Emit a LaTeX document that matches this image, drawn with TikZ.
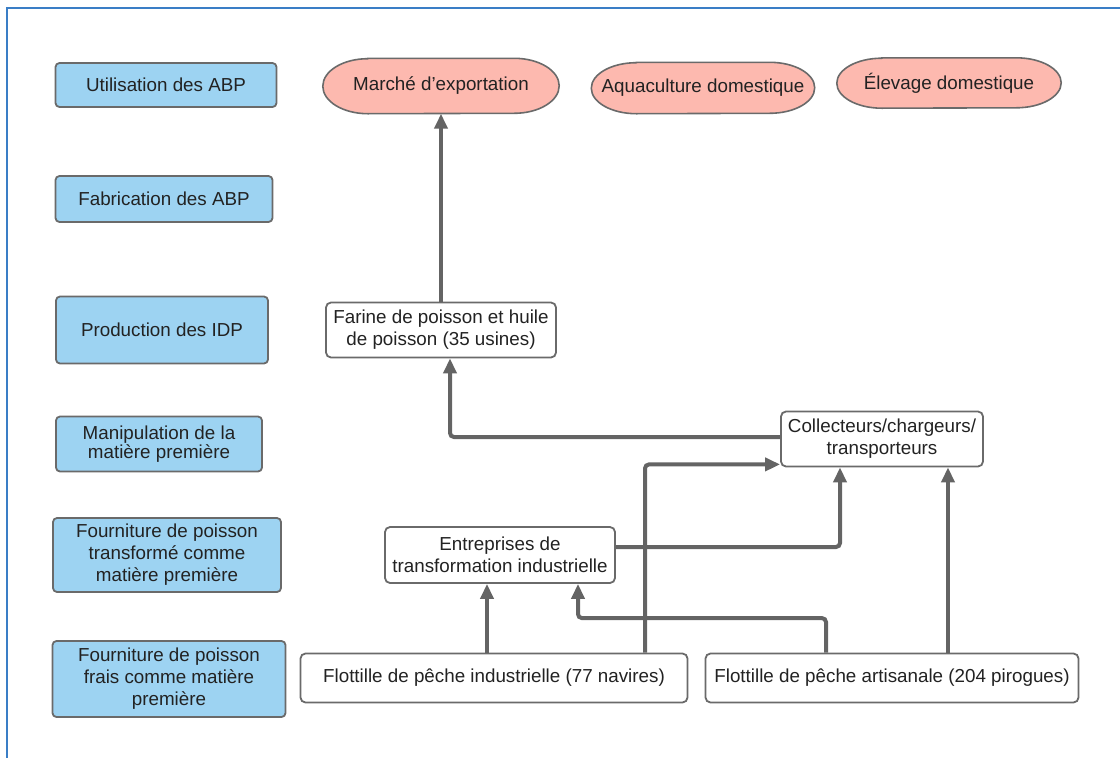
\documentclass[tikz,border=0pt]{standalone}
\usepackage{fontspec}
\setmainfont{Liberation Sans}
\usetikzlibrary{arrows.meta,backgrounds}
\definecolor{stageblue}{HTML}{9DD3F2}
\definecolor{usepink}{HTML}{FDB9AF}
\definecolor{edgegray}{HTML}{6A6A6A}
\definecolor{flowgray}{HTML}{646464}
\definecolor{framblue}{HTML}{3A7EC6}
\definecolor{txt}{HTML}{222222}
\begin{document}
\begin{tikzpicture}[x=1pt,y=-1pt,
  every node/.style={font=\fontsize{18.8}{22}\selectfont, text=txt, align=center, inner sep=0pt},
  stagebox/.style={draw=edgegray, line width=1.8pt, fill=stageblue, rounded corners=4pt},
  usebox/.style={},
  useoutline/.style={draw=edgegray, line width=1.6pt, fill=usepink},
  actbox/.style={draw=edgegray, line width=1.8pt, fill=white, rounded corners=5pt},
  conn/.style={draw=flowgray, line width=4pt, rounded corners=4pt,
    -{Triangle[length=15pt,width=13pt]}}
]
\useasboundingbox (0,0) rectangle (1120,758);
% frame
\draw[framblue, line width=1.6pt] (7,758) -- (7,8) -- (1120,8);

% stage column
\node[stagebox, minimum width=221pt, minimum height=44pt] (u1) at (166,85) {Utilisation des ABP};
\node[stagebox, minimum width=217pt, minimum height=46pt] (u2) at (164,199) {Fabrication des ABP};
\node[stagebox, minimum width=212pt, minimum height=67pt] (u3) at (162,330) {Production des IDP};
\node[stagebox, minimum width=206pt, minimum height=55pt] (u4) at (159,444) {Manipulation de la\\[-3pt]matière première};
\node[stagebox, minimum width=228pt, minimum height=74pt] (u5) at (167,555) {Fourniture de poisson\\transformé comme\\matière première};
\node[stagebox, minimum width=233pt, minimum height=76pt] (u6) at (169,679) {Fourniture de poisson\\frais comme matière\\première};

% end uses (labels; oval outlines drawn behind them)
\node[usebox, minimum width=236pt, minimum height=55pt] (m1) at (441,86) {Marché d’exportation};
\node[usebox, minimum width=223pt, minimum height=51pt] (m2) at (703,88) {Aquaculture domestique};
\node[usebox, minimum width=224pt, minimum height=50pt] (m3) at (949,83) {Élevage domestique};
\begin{scope}[on background layer]
  \foreach \n/\r in {m1/27.5, m2/25.5, m3/25} {
    \draw[useoutline] ([xshift=45pt]\n.north west) -- ([xshift=-45pt]\n.north east)
      arc[start angle=90, end angle=-90, x radius=45pt, y radius=\r pt]
      -- ([xshift=45pt]\n.south west)
      arc[start angle=270, end angle=90, x radius=45pt, y radius=\r pt] -- cycle;
  }
\end{scope}

% actors
\node[actbox, minimum width=230pt, minimum height=55pt] (farine) at (441,330) {Farine de poisson et huile\\de poisson (35 usines)};
\node[actbox, minimum width=202pt, minimum height=55pt] (coll) at (882,439) {Collecteurs/chargeurs/\\transporteurs};
\node[actbox, minimum width=230pt, minimum height=56pt] (ent) at (500,555) {Entreprises de\\transformation industrielle};
\node[actbox, minimum width=387pt, minimum height=49pt] (indus) at (494,678) {Flottille de pêche industrielle (77 navires)};
\node[actbox, minimum width=373pt, minimum height=49pt] (arti) at (892,678) {Flottille de pêche artisanale (204 pirogues)};

% flows
\draw[conn] (farine.north) -- (m1.south);
\draw[conn] ([yshift=2pt]coll.west) -| ([xshift=9pt]farine.south);
\draw[conn] ([xshift=151pt]indus.north) |- ([yshift=3pt]coll.south west);
\draw[conn] ([yshift=8pt]ent.east) -| ([xshift=-42pt]coll.south);
\draw[conn] ([xshift=56pt]arti.north) -- ([xshift=66pt]coll.south);
\draw[conn] ([xshift=-7pt]indus.north) -- ([xshift=-13pt]ent.south);
\draw[conn] ([xshift=-66pt]arti.north) -- ++(0,-34.5) -| ([xshift=78pt]ent.south);
\end{tikzpicture}
\end{document}
